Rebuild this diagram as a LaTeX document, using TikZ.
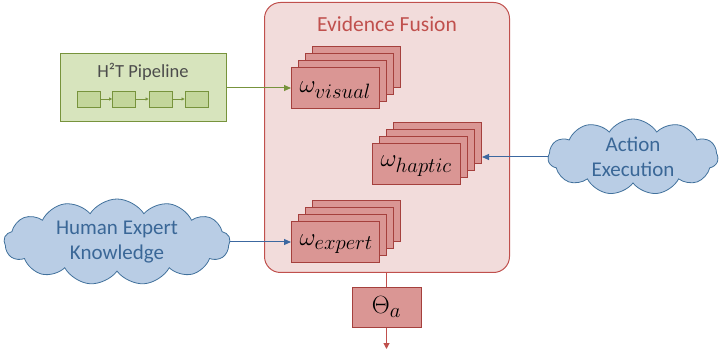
\documentclass[tikz,border=0pt]{standalone}
\usepackage{fontspec}
\setmainfont{Carlito}
\usetikzlibrary{shapes.symbols,arrows.meta}
% larger subscripts for the evidence weights
\DeclareMathSizes{25}{25}{21}{17}
\definecolor{fusionbg}{HTML}{F2DCDB}
\definecolor{fusionline}{HTML}{C0504D}
\definecolor{cardfill}{HTML}{DA9694}
\definecolor{cardline}{HTML}{A5403D}
\definecolor{pipefill}{HTML}{D7E4BD}
\definecolor{pipeline}{HTML}{77933C}
\definecolor{pipebox}{HTML}{C3D69B}
\definecolor{cloudfill}{HTML}{B9CDE5}
\definecolor{cloudline}{HTML}{41719C}
\definecolor{cloudtext}{HTML}{3A6797}
\definecolor{bluearrow}{HTML}{3C68A0}
\tikzset{
  card/.style={draw=cardline, fill=cardfill, line width=1pt, minimum width=88pt,
    minimum height=41pt, inner sep=0pt, anchor=north west},
  cardlabel/.style={font=\fontsize{25}{28}\selectfont, anchor=west},
  cloudy/.style={cloud, cloud puffs=11, cloud puff arc=115, cloud ignores aspect,
    draw=cloudline, fill=cloudfill, line width=0.8pt, inner sep=0pt, text=cloudtext,
    align=center, font=\fontsize{21}{25}\selectfont},
  pipestep/.style={draw=pipeline, fill=pipebox, line width=0.8pt, minimum width=23pt,
    minimum height=16pt, inner sep=0pt},
  link/.style={line width=1pt, -{Triangle[length=7pt,width=6pt]}},
}
\newcommand\cardstack[4]{% name, x, y of front card, label
  \node[card] (#1c) at (#2+21,#3-21) {};
  \node[card] (#1b) at (#2+14,#3-14) {};
  \node[card] (#1a) at (#2+7,#3-7) {};
  \node[card] (#1) at (#2,#3) {};
  \node[cardlabel] (#1t) at ([xshift=5pt,yshift=-2pt]#1.west) {$\omega_{#4}$};
}
\begin{document}
\begin{tikzpicture}[x=1pt,y=-1pt]
\useasboundingbox (0,0) rectangle (719,352);

% evidence fusion container
\node[draw=fusionline, fill=fusionbg, line width=1pt, rounded corners=16pt,
  minimum width=245pt, minimum height=270pt, anchor=north west, inner sep=0pt]
  (fusion) at (264,2) {};
\node[text=fusionline, font=\fontsize{21.5}{24}\selectfont] (fusiontitle) at (387,24) {Evidence Fusion};

% evidence stacks
\cardstack{visual}{291}{67}{visual}
\cardstack{haptic}{372}{143}{haptic}
\cardstack{expert}{291}{221}{expert}

% output node
\node[draw=cardline, fill=cardfill, line width=1pt, minimum width=69pt, minimum height=40pt,
  inner sep=0pt, font=\fontsize{25}{28}\selectfont] (theta) at (386.5,307) {$\Theta_a$};
\coordinate (out) at (386.5,349);
\draw[fusionline, line width=1pt] (fusion.south -| theta.north) -- (theta.north);
\draw[fusionline, line width=1pt, -{Triangle[length=6pt,width=6pt]}] (theta.south) -- (out);

% H2T pipeline
\node[draw=pipeline, fill=pipefill, line width=1pt, minimum width=166pt, minimum height=68pt,
  inner sep=0pt, anchor=north west] (pipe) at (60,53) {};
\node[text=black!70, font=\fontsize{18.5}{21}\selectfont] (pipetitle) at (143,72) {H²T Pipeline};
\node[pipestep] (p1) at (88.5,99) {};
\node[pipestep] (p2) at (124,99) {};
\node[pipestep] (p3) at (160.5,99) {};
\node[pipestep] (p4) at (196.5,99) {};
\foreach \a/\b in {p1/p2,p2/p3,p3/p4}
  \draw[pipeline, line width=0.8pt, -{Triangle[length=3pt,width=3pt]}] (\a) -- (\b);
\draw[pipeline, link] (pipe.east |- visual.west) -- (visual.west);

% clouds
\node[cloudy, minimum width=170pt, minimum height=76pt] (action) at (633,157) {Action\\Execution};
\node[cloudy, minimum width=226pt, minimum height=86pt, cloud puffs=13] (human) at (117,242) {Human Expert\\Knowledge};
\draw[bluearrow, link] (action.west) -- (action.west -| hapticc.east);
\draw[bluearrow, link] (human.east) -- (human.east -| expert.west);
\end{tikzpicture}
\end{document}
